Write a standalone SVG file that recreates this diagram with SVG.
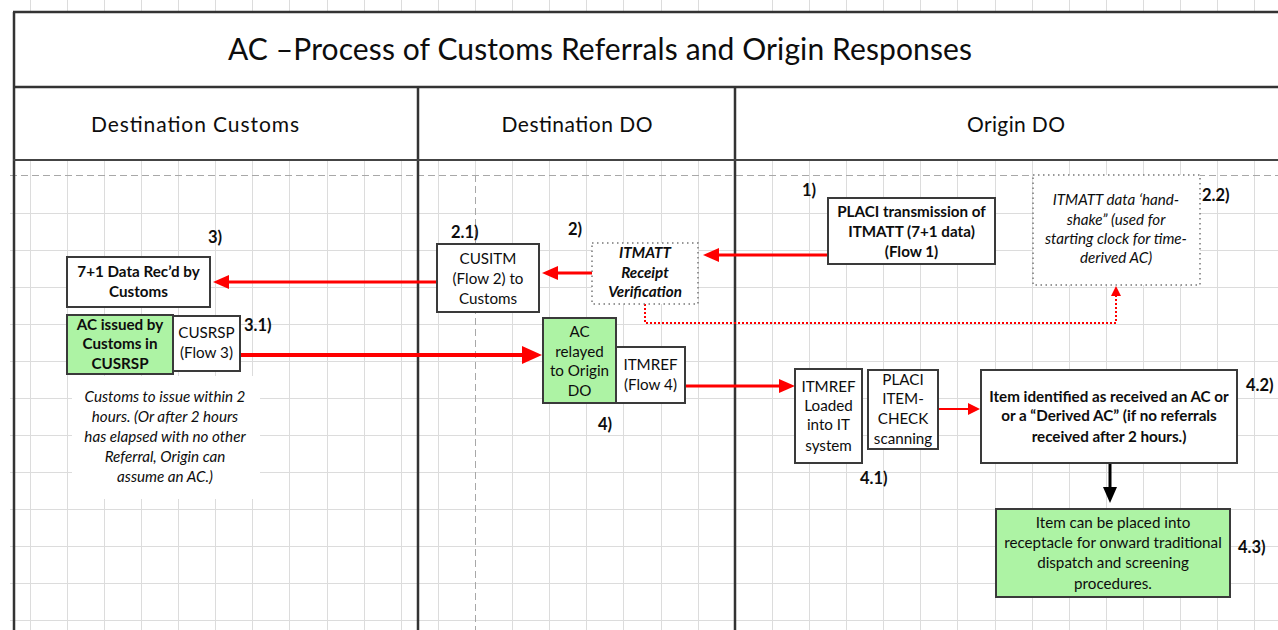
<svg xmlns="http://www.w3.org/2000/svg" width="1278" height="630" viewBox="0 0 1278 630">
<style>
.grid line{stroke:#dcdcdc;stroke-width:1}
.pb{stroke:#a8a8a8;stroke-width:1;stroke-dasharray:7 4;fill:none}
.frame{stroke:#333;stroke-width:2.5;fill:none}
.box{fill:#fff;stroke:#3a3a3a;stroke-width:2}
.green{fill:#adf3a4;stroke:#3a3a3a;stroke-width:2}
.dotbox{fill:#fff;stroke:#777;stroke-width:1.5;stroke-dasharray:1.5 3.5}
text{font-family:Lato,"Liberation Sans",sans-serif;fill:#0d0d0d}
.t{font-size:15.2px;text-anchor:middle}
.b{font-weight:bold}
.i{font-style:italic}
.lbl{font-size:16.5px;font-weight:bold}
.hdr{font-size:21px;text-anchor:middle}
.red{stroke:#f00;fill:none}
</style>
<defs>
<marker id="arL" markerUnits="userSpaceOnUse" markerWidth="20" markerHeight="18" refX="1" refY="9" orient="auto"><path d="M0,0 L20,9 L0,18 z" fill="#f00"/></marker>
<marker id="arM" markerUnits="userSpaceOnUse" markerWidth="16" markerHeight="14" refX="1" refY="7" orient="auto"><path d="M0,0 L16,7 L0,14 z" fill="#f00"/></marker>
<marker id="arS" markerUnits="userSpaceOnUse" markerWidth="12" markerHeight="12" refX="1" refY="6" orient="auto"><path d="M0,0 L12,6 L0,12 z" fill="#f00"/></marker>
<marker id="arD" markerUnits="userSpaceOnUse" markerWidth="10" markerHeight="10" refX="1" refY="5" orient="auto"><path d="M0,0 L10,5 L0,10 z" fill="#f00"/></marker>
<marker id="arK" markerUnits="userSpaceOnUse" markerWidth="16" markerHeight="14" refX="1" refY="7" orient="auto"><path d="M0,0 L16,7 L0,14 z" fill="#000"/></marker>
</defs>
<rect width="1278" height="630" fill="#fff"/>
<g class="grid">
<line x1="30.5" y1="0" x2="30.5" y2="630"/><line x1="67.5" y1="0" x2="67.5" y2="630"/><line x1="104.5" y1="0" x2="104.5" y2="630"/><line x1="141.5" y1="0" x2="141.5" y2="630"/><line x1="178.5" y1="0" x2="178.5" y2="630"/><line x1="215.5" y1="0" x2="215.5" y2="630"/><line x1="252.5" y1="0" x2="252.5" y2="630"/><line x1="289.5" y1="0" x2="289.5" y2="630"/><line x1="327.5" y1="0" x2="327.5" y2="630"/><line x1="364.5" y1="0" x2="364.5" y2="630"/><line x1="401.5" y1="0" x2="401.5" y2="630"/><line x1="438.5" y1="0" x2="438.5" y2="630"/><line x1="475.5" y1="0" x2="475.5" y2="175"/><line x1="512.5" y1="0" x2="512.5" y2="630"/><line x1="549.5" y1="0" x2="549.5" y2="630"/><line x1="586.5" y1="0" x2="586.5" y2="630"/><line x1="623.5" y1="0" x2="623.5" y2="630"/><line x1="661.5" y1="0" x2="661.5" y2="630"/><line x1="698.5" y1="0" x2="698.5" y2="630"/><line x1="772.5" y1="0" x2="772.5" y2="630"/><line x1="809.5" y1="0" x2="809.5" y2="630"/><line x1="846.5" y1="0" x2="846.5" y2="630"/><line x1="883.5" y1="0" x2="883.5" y2="630"/><line x1="920.5" y1="0" x2="920.5" y2="630"/><line x1="957.5" y1="0" x2="957.5" y2="630"/><line x1="995.5" y1="0" x2="995.5" y2="630"/><line x1="1032.5" y1="0" x2="1032.5" y2="630"/><line x1="1069.5" y1="0" x2="1069.5" y2="630"/><line x1="1106.5" y1="0" x2="1106.5" y2="630"/><line x1="1143.5" y1="0" x2="1143.5" y2="630"/><line x1="1180.5" y1="0" x2="1180.5" y2="630"/><line x1="1217.5" y1="0" x2="1217.5" y2="630"/><line x1="1254.5" y1="0" x2="1254.5" y2="630"/>
<line x1="10" y1="213.5" x2="1278" y2="213.5"/><line x1="10" y1="250.5" x2="1278" y2="250.5"/><line x1="10" y1="287.5" x2="1278" y2="287.5"/><line x1="10" y1="324.5" x2="1278" y2="324.5"/><line x1="10" y1="361.5" x2="1278" y2="361.5"/><line x1="10" y1="398.5" x2="1278" y2="398.5"/><line x1="10" y1="435.5" x2="1278" y2="435.5"/><line x1="10" y1="472.5" x2="1278" y2="472.5"/><line x1="10" y1="509.5" x2="1278" y2="509.5"/><line x1="10" y1="546.5" x2="1278" y2="546.5"/><line x1="10" y1="583.5" x2="1278" y2="583.5"/><line x1="10" y1="620.5" x2="1278" y2="620.5"/>
</g>
<path class="pb" d="M10,175.5 H1278 M475.5,175 V630"/>
<rect x="14" y="12" width="1264" height="148" fill="#fff"/>
<rect x="72" y="376" width="188" height="123" fill="#fff"/>
<g id="frame">
<path class="frame" d="M13,12 H1278 M13,87 H1278 M14,12 V630 M418,87 V630 M735,87 V630"/>
<path d="M13,160 H1278" stroke="#444" stroke-width="2" fill="none"/>
</g>
<text id="title" x="600" y="60" font-size="30" text-anchor="middle" textLength="744">AC –Process of Customs Referrals and Origin Responses</text>
<g id="lanes">
<text class="hdr" x="195" y="132" textLength="208">Destination Customs</text>
<text class="hdr" x="577" y="132" textLength="151">Destination DO</text>
<text class="hdr" x="1016" y="132" textLength="98">Origin DO</text>
</g>
<g id="connectors">
<path class="red" stroke-width="3" d="M828,255 H718" marker-end="url(#arM)"/>
<path class="red" stroke-width="3" d="M592,273 H557" marker-end="url(#arM)"/>
<path class="red" stroke-width="3" d="M437,282 H228" marker-end="url(#arM)"/>
<path class="red" stroke-width="4" d="M240,355 H523" marker-end="url(#arL)"/>
<path class="red" stroke-width="3" d="M685,386 H780" marker-end="url(#arM)"/>
<path class="red" stroke-width="2" d="M938,409 H969" marker-end="url(#arS)"/>
<path class="red" stroke-width="2" stroke-dasharray="2 2" d="M645,304 V323 H1116 V295" marker-end="url(#arD)"/>
<path stroke="#000" stroke-width="3" fill="none" d="M1110,463 V488" marker-end="url(#arK)"/>
</g>
<g id="n-datarecd">
<rect class="box" x="67" y="257" width="143" height="50"/>
<text class="t b"><tspan x="138.5" y="277">7+1 Data Rec’d by</tspan><tspan x="138.5" y="297">Customs</tspan></text>
</g>
<g id="n-acissued">
<rect class="green" x="67" y="315" width="106" height="59"/>
<text class="t b"><tspan x="120" y="330">AC issued by</tspan><tspan x="120" y="349">Customs in</tspan><tspan x="120" y="369">CUSRSP</tspan></text>
</g>
<g id="n-cusrsp">
<rect class="box" x="173" y="316" width="67" height="55"/>
<text class="t"><tspan x="206.5" y="338">CUSRSP</tspan><tspan x="206.5" y="358">(Flow 3)</tspan></text>
</g>
<g id="n-note">
<text class="t i" font-size="15.5"><tspan x="165" y="402">Customs to issue within 2</tspan><tspan x="165" y="422">hours.  (Or after 2 hours</tspan><tspan x="165" y="442">has elapsed with no other</tspan><tspan x="165" y="462">Referral, Origin can</tspan><tspan x="165" y="482">assume an AC.)</tspan></text>
</g>
<g id="n-cusitm">
<rect class="box" x="437" y="244" width="102" height="68"/>
<text class="t"><tspan x="488" y="264">CUSITM</tspan><tspan x="488" y="284">(Flow 2) to</tspan><tspan x="488" y="304">Customs</tspan></text>
</g>
<g id="n-receipt">
<rect class="dotbox" x="592" y="243" width="106" height="61"/>
<text class="t b i"><tspan x="645" y="258">ITMATT</tspan><tspan x="645" y="278">Receipt</tspan><tspan x="645" y="297">Verification</tspan></text>
</g>
<g id="n-acrelayed">
<rect class="green" x="543" y="318" width="73" height="85"/>
<text class="t"><tspan x="579.5" y="337">AC</tspan><tspan x="579.5" y="357">relayed</tspan><tspan x="579.5" y="376">to Origin</tspan><tspan x="579.5" y="396">DO</tspan></text>
</g>
<g id="n-itmref4">
<rect class="box" x="616" y="347" width="69" height="56"/>
<text class="t"><tspan x="650.5" y="370">ITMREF</tspan><tspan x="650.5" y="390">(Flow 4)</tspan></text>
</g>
<g id="n-placi">
<rect class="box" x="828" y="198" width="167" height="66"/>
<text class="t b"><tspan x="911.5" y="217">PLACI transmission of</tspan><tspan x="911.5" y="237">ITMATT (7+1 data)</tspan><tspan x="911.5" y="257">(Flow 1)</tspan></text>
</g>
<g id="n-handshake">
<rect class="dotbox" x="1033" y="175" width="167" height="110"/>
<text class="t i" font-size="15.5"><tspan x="1116" y="205">ITMATT data ‘hand-</tspan><tspan x="1116" y="225">shake”  (used for</tspan><tspan x="1116" y="244">starting clock for time-</tspan><tspan x="1116" y="263">derived AC)</tspan></text>
</g>
<g id="n-loaded">
<rect class="box" x="795" y="369" width="67" height="94"/>
<text class="t"><tspan x="828.5" y="392">ITMREF</tspan><tspan x="828.5" y="411">Loaded</tspan><tspan x="828.5" y="430">into IT</tspan><tspan x="828.5" y="451">system</tspan></text>
</g>
<g id="n-itemcheck">
<rect class="box" x="868" y="370" width="70" height="79"/>
<text class="t"><tspan x="903" y="385">PLACI</tspan><tspan x="903" y="404">ITEM-</tspan><tspan x="903" y="424">CHECK</tspan><tspan x="903" y="444">scanning</tspan></text>
</g>
<g id="n-identified">
<rect class="box" x="981" y="370" width="256" height="93"/>
<text class="t b"><tspan x="1109" y="402">Item identified as received an AC or</tspan><tspan x="1109" y="421">or a “Derived AC” (if no referrals</tspan><tspan x="1109" y="442">received after 2 hours.)</tspan></text>
</g>
<g id="n-placed">
<rect class="green" x="996" y="509" width="234" height="88"/>
<text class="t"><tspan x="1113" y="528">Item can be placed into</tspan><tspan x="1113" y="548">receptacle for onward traditional</tspan><tspan x="1113" y="568">dispatch and screening</tspan><tspan x="1113" y="589">procedures.</tspan></text>
</g>
<g id="labels">
<text class="lbl" x="208" y="243">3)</text>
<text class="lbl" x="244" y="331">3.1)</text>
<text class="lbl" x="451" y="238">2.1)</text>
<text class="lbl" x="568" y="235">2)</text>
<text class="lbl" x="598" y="430">4)</text>
<text class="lbl" x="802" y="196">1)</text>
<text class="lbl" x="1202" y="201">2.2)</text>
<text class="lbl" x="860" y="484">4.1)</text>
<text class="lbl" x="1246" y="391">4.2)</text>
<text class="lbl" x="1238" y="553">4.3)</text>
</g>
</svg>
